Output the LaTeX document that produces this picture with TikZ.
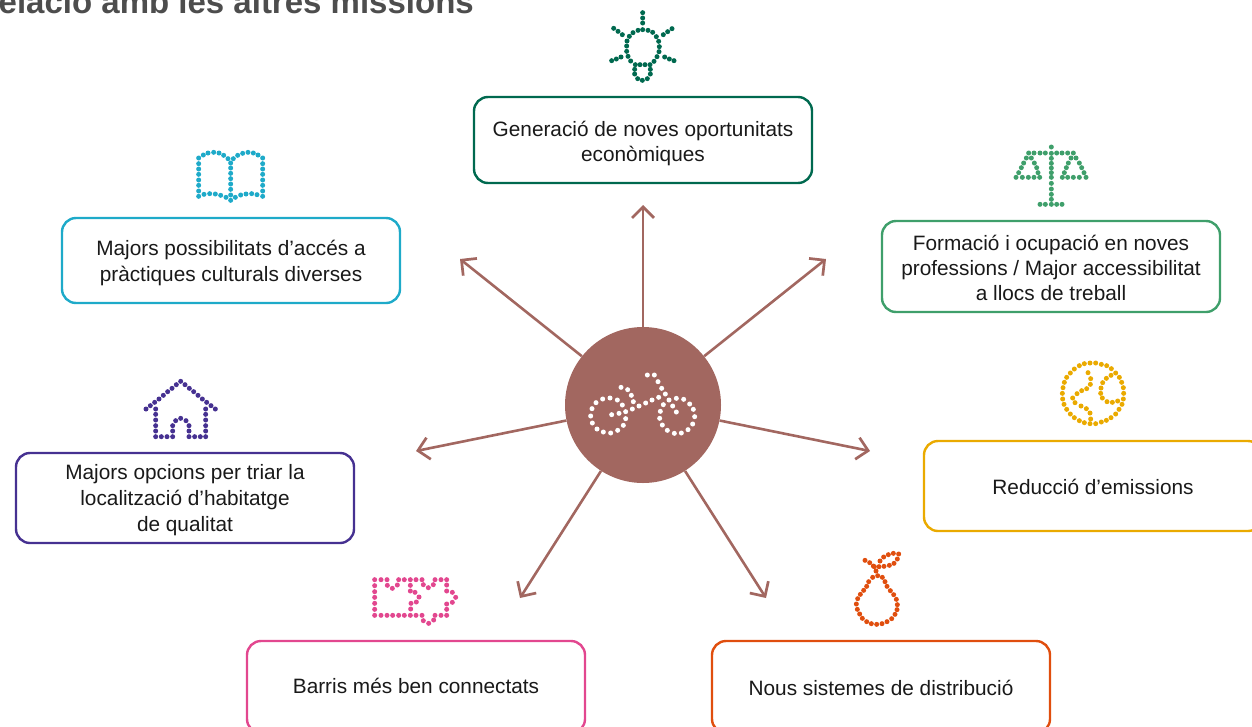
\documentclass[tikz,border=0pt]{standalone}
\usepackage{fontspec}
\setmainfont{Liberation Sans}
\usetikzlibrary{arrows.meta}
\definecolor{cdeep}{HTML}{00694F}
\definecolor{cgreen}{HTML}{3F9F6B}
\definecolor{cyell}{HTML}{EAAA00}
\definecolor{corange}{HTML}{E04E0E}
\definecolor{cpink}{HTML}{E2478F}
\definecolor{cpurple}{HTML}{463191}
\definecolor{ccyan}{HTML}{1EAAC9}
\definecolor{chub}{HTML}{A26760}
\definecolor{ctitle}{HTML}{4D4D4D}
\tikzset{
  card/.style={draw=#1,line width=2.4pt,rounded corners=14pt,minimum width=338pt,inner sep=0pt},
  cardtext/.style={align=center,text=black!90,inner sep=0pt,font=\fontsize{20.8}{25}\selectfont},
  cardtextwide/.style={cardtext,font=\fontsize{20.8}{26}\selectfont},
  arrowline/.style={draw=chub,line width=2.6pt,-{Straight Barb[length=11pt,width=22pt,line width=2.7pt]}},
}
\newcommand\dotsicon[5][2.5pt]{%
  \begin{scope}[shift={(#2,#3)},x=0.33333pt,y=-0.33333pt]
    \foreach \p in {#5}{\fill[#4] \p circle[radius=#1];}
  \end{scope}}
\begin{document}
\begin{tikzpicture}[x=1pt,y=-1pt]
\useasboundingbox (0,0) rectangle (1252,726);
\node[anchor=base east,font=\bfseries\fontsize{33}{36}\selectfont,text=ctitle,inner sep=0pt] (title) at (474,13) {Relació amb les altres missions};

\node[card=cdeep,minimum height=86pt] (gen) at (643,140) {};
\node[cardtext] (gent) at (643,143) {Generació de noves oportunitats\\econòmiques};
\node[card=cgreen,minimum height=91pt] (form) at (1051,266.5) {};
\node[cardtext] (formt) at (1051,267.5) {Formació i ocupació en noves\\professions / Major accessibilitat\\a llocs de treball};
\node[card=cyell,minimum height=90pt] (red) at (1093,486) {};
\node[cardtext] (redt) at (1093,487) {Reducció d’emissions};
\node[card=corange,minimum height=92pt] (nous) at (881,687) {};
\node[cardtext] (noust) at (881,688) {Nous sistemes de distribució};
\node[card=cpink,minimum height=92pt] (barris) at (416,687) {};
\node[cardtext] (barrist) at (416,686) {Barris més ben connectats};
\node[card=cpurple,minimum height=90pt] (hab) at (185,498) {};
\node[cardtextwide] (habt) at (185,500) {Majors opcions per triar la\\localització d’habitatge\\de qualitat};
\node[card=ccyan,minimum height=85pt] (cult) at (231,260.5) {};
\node[cardtextwide] (cultt) at (231,263) {Majors possibilitats d’accés a\\pràctiques culturals diverses};

\node[circle,fill=chub,minimum size=156pt,inner sep=0pt] (hub) at (643,405) {};
\coordinate (t1) at (643,205);
\coordinate (t2) at (826,259);
\coordinate (t3) at (870,451);
\coordinate (t4) at (766,598);
\coordinate (t5) at (520,598);
\coordinate (t6) at (416,451);
\coordinate (t7) at (460,259);
\foreach \t in {t1,t2,t3,t4,t5,t6,t7}{\draw[arrowline] (hub) -- (\t);}

% bicycle
\dotsicon{560}{320}{white}{(262,165),(283,165),(294,185),(305,205),(316,222),(327,240),(338,258),(349,276),
(296,232),(276,240),(257,249),(237,258),(217,267),(197,275),(177,280),(155,284),
(183,202),(203,209),(214,226),(220,245),
(128,237),(150,234),(172,240),(187,255),(197,296),(190,316),(173,331),(152,339),(130,336),(111,327),(97,309),(92,288),(96,266),(108,248),
(349,235),(371,238),(389,252),(400,268),(404,290),(398,312),(384,329),(364,339),(343,340),(322,331),(307,315),(299,295),(301,274),(310,254)}
% lamp
\dotsicon{590}{0}{cdeep}{(158,38),(158,54),(158,69),(71,85),(84,94),(97,104),(246,86),(233,95),(220,104),(65,182),(79,177),(93,171),(252,182),(238,177),(224,171),
(144,91),(158,89),(174,91),(188,97),(199,110),(206,124),(208,140),(207,155),(201,170),(192,184),(180,194),(165,194),(150,194),(136,194),(122,183),(114,169),(110,154),(110,138),(111,123),(118,109),(129,98),
(134,208),(134,222),(143,236),(157,241),(172,236),(181,222),(181,208)}
% scales
\dotsicon{1000}{135}{cgreen}{(154,36),(154,55),(154,70),(154,85),(154,99),(154,113),(154,127),(154,145),(154,162),(154,178),(154,193),
(120,208),(136,208),(154,208),(170,208),(186,208),
(86,54),(102,54),(120,54),(136,54),(170,54),(186,54),(203,54),(220,54),
(79,69),(71,84),(64,98),(56,113),(94,69),(103,84),(110,98),(114,113),
(48,127),(67,127),(85,127),(102,127),(119,127),
(213,69),(205,84),(199,98),(193,113),(228,69),(238,84),(245,98),(252,113),
(187,127),(203,127),(220,127),(238,127),(258,127)}
% globe
\dotsicon{1045}{350}{cyell}{(135,39),(152,39),(169,43),(185,47),(199,56),(212,69),(223,82),(230,97),(235,113),(236,130),(235,147),(231,163),(222,178),(212,192),(198,203),(184,211),(169,216),(152,221),(135,221),(118,218),(103,212),(88,203),(76,192),(65,178),(57,163),(53,147),(52,130),(54,113),(58,97),(65,82),(76,69),(88,57),(103,47),(118,41),
(129,68),(137,86),(136,103),(125,116),(110,122),(96,131),(83,144),(90,158),(108,168),(124,176),(135,189),(137,207),
(198,76),(184,85),(173,98),(168,114),(167,130),(172,144),(186,155),(202,157),(218,153)}
% pear
\dotsicon{840}{545}{corange}{(75,46),(89,53),(100,63),(108,78),(103,65),(117,65),(132,64),(148,61),(162,55),(172,42),(176,27),(160,25),(145,29),(131,36),(120,48),
(113,92),(98,97),(86,110),(80,124),(71,136),(61,148),(53,161),(49,177),(52,193),(59,207),(67,220),(80,230),(94,236),(110,238),(126,236),(141,230),(155,221),(165,208),(171,194),(172,179),(169,163),(161,149),(151,137),(141,124),(135,110),(127,97)}
% street arrow
\dotsicon{360}{565}{cpink}{(44,44),(63,44),(81,44),(116,44),(133,44),(151,44),(168,44),(186,44),(225,44),(243,44),(260,44),
(44,62),(44,80),(44,97),(44,115),(44,133),(44,151),
(63,151),(81,151),(98,151),(116,151),(133,151),(151,151),(168,151),(186,151),(225,151),(243,151),(260,151),
(82,61),(97,70),(112,60),(190,167),(206,175),(221,165),(190,59),(205,68),(220,59),
(151,61),(151,78),(165,82),(177,96),(169,111),(153,115),(152,132),
(260,60),(260,78),(277,82),(287,97),(277,112),(260,117),(260,133)}
% house
\dotsicon{130}{370}{cpurple}{(152,34),(139,44),(126,55),(113,65),(100,76),(87,87),(74,97),(61,107),(48,117),(165,44),(178,55),(191,65),(204,76),(217,87),(230,97),(243,107),(256,117),
(77,117),(77,133),(77,150),(77,167),(77,183),(77,200),(227,117),(227,133),(227,150),(227,167),(227,183),(227,200),
(94,200),(111,200),(128,200),(177,200),(194,200),(211,200),
(128,183),(128,167),(137,152),(152,145),(168,152),(177,167),(177,183)}
% book
\dotsicon{185}{140}{ccyan}{(41,54),(41,71),(41,87),(41,103),(41,120),(41,136),(41,153),(41,169),
(55,45),(69,39),(86,37),(102,39),(116,46),(129,56),(145,56),(158,46),(173,40),(189,37),(205,39),(219,45),(233,54),
(233,71),(233,87),(233,103),(233,120),(233,136),(233,153),(233,169),
(137,69),(137,84),(137,100),(137,116),(137,132),(137,148),(137,165),(137,181),
(57,163),(74,161),(91,162),(107,166),(123,172),(151,172),(167,165),(183,162),(200,161),(216,164)}
\end{tikzpicture}
\end{document}
